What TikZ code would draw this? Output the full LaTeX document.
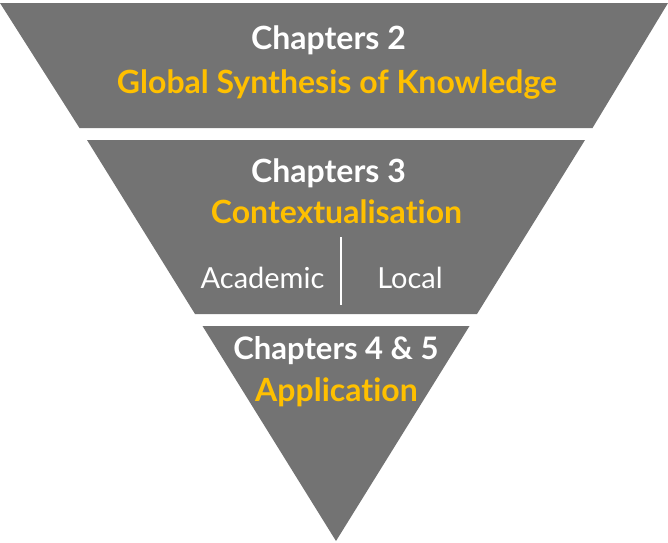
\documentclass[tikz,border=0pt]{standalone}
\usepackage{fontspec}
\setmainfont[Ligatures={NoCommon,NoRare,NoContextual}]{Lato}
\definecolor{bandgray}{HTML}{737373}
\definecolor{gold}{HTML}{FFC000}
\begin{document}
\begin{tikzpicture}[x=1pt,y=-1pt,
  band/.style={fill=bandgray,draw=none},
  head/.style={text=white,font=\fontsize{32}{34}\selectfont\bfseries,inner sep=0pt,anchor=center},
  title/.style={text=gold,font=\fontsize{32}{34}\selectfont\bfseries,inner sep=0pt,anchor=center},
  sub/.style={text=white,font=\fontsize{29}{31}\selectfont,inner sep=0pt,anchor=center}]
\useasboundingbox (0,0) rectangle (668,542);
% bands of one big inverted triangle: apex (336,541), slope 0.621
\fill[band] (0,3) -- (668,3) -- (592.5,128) -- (79.5,128) -- cycle;
\fill[band] (87,140) -- (585,140) -- (477,314) -- (195,314) -- cycle;
\fill[band] (202.5,326) -- (469.5,326) -- (336,541) -- cycle;
\node[head]  (c2)  at (328.5,40)  {Chapters 2};
\node[title] (g2)  at (337,84)  {Global Synthesis of Knowledge};
\node[head]  (c3)  at (328.5,173) {Chapters 3};
\node[title] (g3)  at (336.5,212) {Contextualisation};
\node[sub]   (ac)  at (262.5,278) {Academic};
\node[sub]   (lo)  at (410,278) {Local};
\coordinate (dtop) at (341,237);
\coordinate (dbot) at (341,305);
\draw[white,line width=2pt] (dtop) -- (dbot);
\node[head,font=\fontsize{31}{33}\selectfont\bfseries]  (c4)  at (336,351) {Chapters 4 \& 5};
\node[title] (g4)  at (336.5,392) {Application};
\end{tikzpicture}
\end{document}
